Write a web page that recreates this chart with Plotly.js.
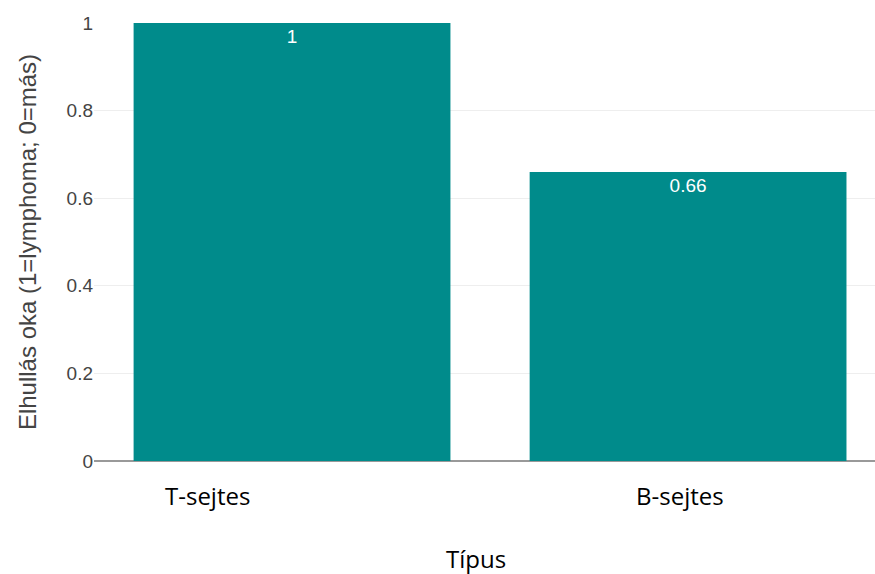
<!DOCTYPE html>
<html>
<head>
<meta charset="utf-8">
<script src="https://cdn.plot.ly/plotly-3.0.1.min.js"></script>
<style>
  html, body { margin: 0; padding: 0; background: #fff; }
  #chart { width: 875px; height: 574px; }
</style>
</head>
<body>
<div id="chart"></div>
<script>
// Cell type categories and the share of deaths caused by lymphoma
const categories = ['T-sejtes', 'B-sejtes'];
const values = [1, 0.66];
const valueLabels = ['1', '0.66'];
const yTickVals = [0, 0.2, 0.4, 0.6, 0.8, 1];
const yTickText = ['0', '0.2', '0.4', '0.6', '0.8', '1'];

const sansFont = '"Liberation Sans", Arial, sans-serif';
const labelFont = { family: '"Open Sans", sans-serif', size: 24, color: '#000' };

const trace = {
  type: 'bar',
  x: categories,
  y: values,
  text: valueLabels,
  textposition: 'inside',
  insidetextanchor: 'end',
  textfont: { family: sansFont, size: 19, color: '#fff' },
  marker: { color: '#008B8B' },
  hoverinfo: 'x+y'
};

// Category labels and the x title sit below the axis as free text
const catLabelX = [0.145, 0.75];
const annotations = categories.map((c, i) => ({
  text: c, xref: 'paper', yref: 'paper', x: catLabelX[i], y: -0.078,
  xanchor: 'center', yanchor: 'middle', showarrow: false, font: labelFont
}));
annotations.push({
  text: 'Típus', xref: 'paper', yref: 'paper', x: 0.489, y: -0.222,
  xanchor: 'center', yanchor: 'middle', showarrow: false, font: labelFont
});

const layout = {
  width: 875,
  height: 574,
  margin: { l: 94, r: 0, t: 23, b: 113, pad: 0 },
  paper_bgcolor: '#fff',
  plot_bgcolor: '#fff',
  bargap: 0.2,
  showlegend: false,
  font: { family: sansFont, color: '#444' },
  xaxis: {
    type: 'category',
    range: [-0.5, 1.472],
    showticklabels: false,
    showgrid: false,
    zeroline: false,
    showline: false,
    fixedrange: true
  },
  yaxis: {
    range: [0, 1],
    tickmode: 'array',
    tickvals: yTickVals,
    ticktext: yTickText,
    tickfont: { family: sansFont, size: 19, color: '#444' },
    gridcolor: '#eeeeee',
    gridwidth: 1,
    zeroline: true,
    zerolinecolor: '#999999',
    zerolinewidth: 2,
    showline: false,
    title: { text: 'Elhullás oka (1=lymphoma; 0=más)', font: { family: sansFont, size: 24, color: '#444' } },
    fixedrange: true
  },
  annotations: annotations
};

Plotly.newPlot('chart', [trace], layout, { displayModeBar: false, staticPlot: true });
</script>
</body>
</html>
